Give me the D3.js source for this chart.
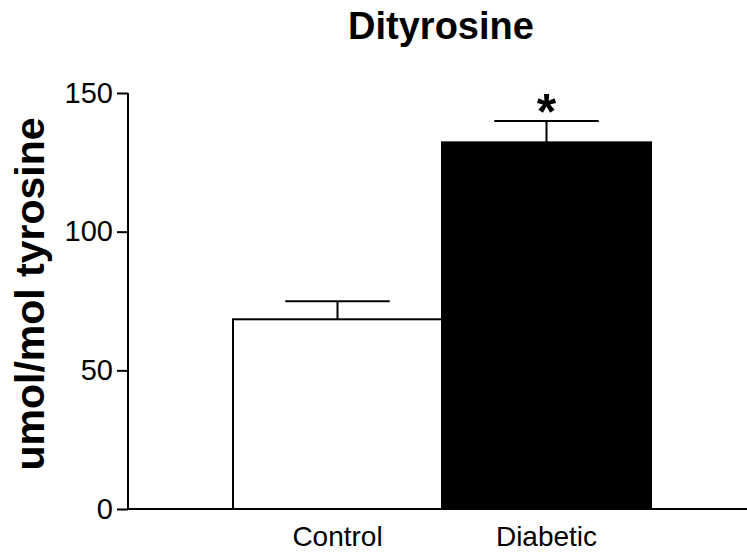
<!DOCTYPE html>
<html>
<head>
<meta charset="utf-8">
<script src="https://cdnjs.cloudflare.com/ajax/libs/d3/7.8.5/d3.min.js"></script>
<style>
  body { margin: 0; background: #fff; }
  svg { display: block; font-family: Arial, "Liberation Sans", sans-serif; }
</style>
</head>
<body>
<svg width="747" height="553"></svg>
<script>
// values
var groups = ["Control", "Diabetic"];
var means = [68.4, 132.2];
var errors = [6.5, 7.7];
var fills = ["#ffffff", "#000000"];
var marks = ["", "*"];
var yTicks = [0, 50, 100, 150];

var svg = d3.select("svg");

var margin = { top: 93, right: 0, bottom: 44, left: 128 };
var width = 747, height = 553;

var y = d3.scaleLinear()
  .domain([0, 150])
  .range([height - margin.bottom, margin.top]);

// bars sit side by side in the middle of the x axis
var x = d3.scaleBand()
  .domain(groups)
  .range([233, 651])
  .padding(0);

var plot = svg.append("g").attr("id", "plot");

// y axis
var yAxis = d3.axisLeft(y)
  .tickValues(yTicks)
  .tickSize(11)
  .tickPadding(4)
  .tickFormat(d3.format("d"));

var yGroup = plot.append("g")
  .attr("transform", "translate(" + margin.left + ",0)")
  .call(yAxis);
yGroup.select(".domain").attr("stroke-width", 2).attr("d", "M0," + y(150) + "V" + y(0));
yGroup.selectAll(".tick line").attr("stroke-width", 2);
yGroup.selectAll(".tick text").style("font-size", "29px").attr("fill", "#000");

// bars
plot.selectAll("rect.bar")
  .data(groups)
  .enter()
  .append("rect")
  .attr("class", "bar")
  .attr("x", function(d) { return x(d); })
  .attr("y", function(d, i) { return y(means[i]); })
  .attr("width", x.bandwidth())
  .attr("height", function(d, i) { return y(0) - y(means[i]); })
  .attr("fill", function(d, i) { return fills[i]; })
  .attr("stroke", "#000")
  .attr("stroke-width", 2);

// error bars (upper only)
var err = plot.selectAll("g.err")
  .data(groups)
  .enter()
  .append("g")
  .attr("class", "err");

err.append("line")
  .attr("x1", function(d) { return x(d) + x.bandwidth() / 2; })
  .attr("x2", function(d) { return x(d) + x.bandwidth() / 2; })
  .attr("y1", function(d, i) { return y(means[i]); })
  .attr("y2", function(d, i) { return y(means[i] + errors[i]); })
  .attr("stroke", "#000")
  .attr("stroke-width", 2);

err.append("line")
  .attr("x1", function(d) { return x(d) + x.bandwidth() / 4; })
  .attr("x2", function(d) { return x(d) + x.bandwidth() * 3 / 4; })
  .attr("y1", function(d, i) { return y(means[i] + errors[i]); })
  .attr("y2", function(d, i) { return y(means[i] + errors[i]); })
  .attr("stroke", "#000")
  .attr("stroke-width", 2);

// significance star
plot.selectAll("text.star")
  .data(groups)
  .enter()
  .append("text")
  .attr("class", "star")
  .attr("x", function(d) { return x(d) + x.bandwidth() / 2; })
  .attr("y", function(d, i) { return y(means[i] + errors[i]) + 8; })
  .attr("text-anchor", "middle")
  .style("font-size", "50px")
  .style("font-weight", "bold")
  .text(function(d, i) { return marks[i]; });

// x axis
var xAxis = d3.axisBottom(x).tickSize(0).tickPadding(17);
var xGroup = plot.append("g")
  .attr("transform", "translate(0," + y(0) + ")")
  .call(xAxis);
xGroup.select(".domain").attr("stroke-width", 2).attr("d", "M" + margin.left + ",0H" + width);
xGroup.selectAll(".tick text").style("font-size", "28px").attr("fill", "#000");

// title
svg.append("text")
  .attr("x", 441)
  .attr("y", 39)
  .attr("text-anchor", "middle")
  .style("font-size", "38px")
  .style("font-weight", "bold")
  .text("Dityrosine");

// y axis title
svg.append("text")
  .attr("transform", "translate(44," + 294 + ") rotate(-90)")
  .attr("text-anchor", "middle")
  .style("font-size", "41px")
  .style("font-weight", "bold")
  .text("umol/mol tyrosine");
</script>
</body>
</html>
